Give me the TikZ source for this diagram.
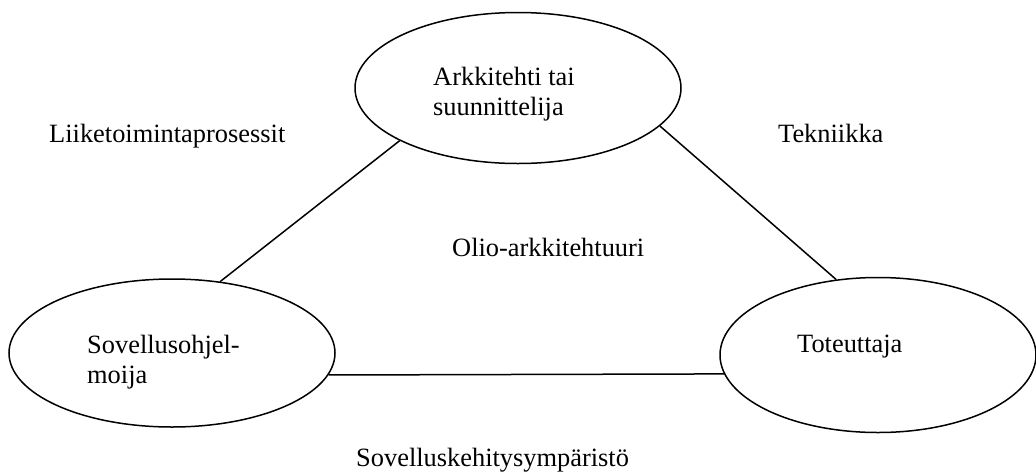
\documentclass[tikz,border=0pt]{standalone}
\usepackage{fontspec}
\setmainfont{Liberation Serif}
\usetikzlibrary{shapes.geometric}
\begin{document}
\begin{tikzpicture}[x=1pt, y=-1pt,
  role/.style={ellipse, draw, line width=1.5pt, inner sep=0pt},
  txt/.style={inner sep=0pt, anchor=base west, align=left,
    font=\fontsize{26.4}{29.5}\selectfont},
  link/.style={line width=1.5pt}]
  \useasboundingbox (0,0) rectangle (1036,472);

  % the three roles
  \node[role, minimum width=326pt, minimum height=151pt] (arch) at (518,88) {};
  \node[role, minimum width=326pt, minimum height=148pt] (dev)  at (172,353) {};
  \node[role, minimum width=316pt, minimum height=155pt] (impl) at (878,355) {};

  % multi-line labels are placed by the baseline of their last line
  \node[txt] (archtxt) at (433,115) {Arkkitehti tai\\suunnittelija};
  \node[txt] (devtxt)  at (87,383)  {Sovellusohjel-\\moija};
  \node[txt] (impltxt) at (797,352) {Toteuttaja};

  % relations between the roles
  \draw[link] (arch.204) -- (dev.56);
  \draw[link] (arch.345) -- (impl.119);
  \draw[link] (dev.352) -- (impl.187);

  % labels of the sides and the centre
  \node[txt] (biz)  at (49,142)  {Liiketoimintaprosessit};
  \node[txt] (tech) at (778,142) {Tekniikka};
  \node[txt] (oo)   at (452,256) {Olio-arkkitehtuuri};
  \node[txt] (env)  at (356,466) {Sovelluskehitysympäristö};
\end{tikzpicture}
\end{document}
